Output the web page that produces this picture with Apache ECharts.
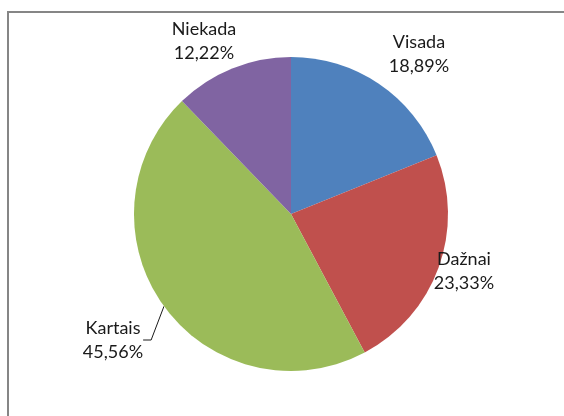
<!DOCTYPE html>
<html>
<head>
<meta charset="utf-8">
<script src="https://cdn.jsdelivr.net/npm/echarts@6/dist/echarts.min.js"></script>
<style>
  html, body { margin: 0; padding: 0; background: #fff; }
  #chart { width: 564px; height: 416px; }
</style>
</head>
<body>
<div id="chart"></div>
<script>
  // duomenys
  var categories = ['Visada', 'Dažnai', 'Kartais', 'Niekada'];
  var counts = [17, 21, 41, 11];
  var colors = ['#4F81BD', '#C0504D', '#9BBB59', '#8064A2'];
  // etikečių vietos (x, y) pagal nuotrauką
  var labelPos = [[419, 54], [464, 271], [113, 340], [204, 41]];

  var data = [];
  categories.forEach(function (name, i) {
    var item = { name: name, value: counts[i], itemStyle: { color: colors[i] } };
    if (name === 'Kartais') {
      item.labelLine = { show: true };
    }
    data.push(item);
  });

  var chart = echarts.init(document.getElementById('chart'));
  var option = {
    animation: false,
    graphic: [{
      type: 'rect',
      shape: { x: 8, y: 12, width: 700, height: 600 },
      style: { fill: 'none', stroke: '#868686', lineWidth: 2 },
      silent: true
    }],
    series: [{
      type: 'pie',
      center: [291, 214],
      radius: 157,
      startAngle: 90,
      clockwise: true,
      data: data,
      label: {
        show: true,
        position: 'outside',
        fontFamily: 'Lato',
        fontSize: 18,
        lineHeight: 24,
        color: '#1a1a1a',
        align: 'center',
        formatter: function (p) {
          return p.name + '\n' + p.percent.toFixed(2).replace('.', ',') + '%';
        }
      },
      labelLine: {
        show: false,
        length: 8,
        length2: 8,
        lineStyle: { color: '#1a1a1a', width: 1 }
      },
      labelLayout: function (params) {
        var pos = labelPos[params.dataIndex];
        return { x: pos[0], y: pos[1], align: 'center', verticalAlign: 'middle' };
      }
    }]
  };
  chart.setOption(option);
  window.addEventListener('resize', function () {
    chart.resize();
  });
</script>
</body>
</html>
